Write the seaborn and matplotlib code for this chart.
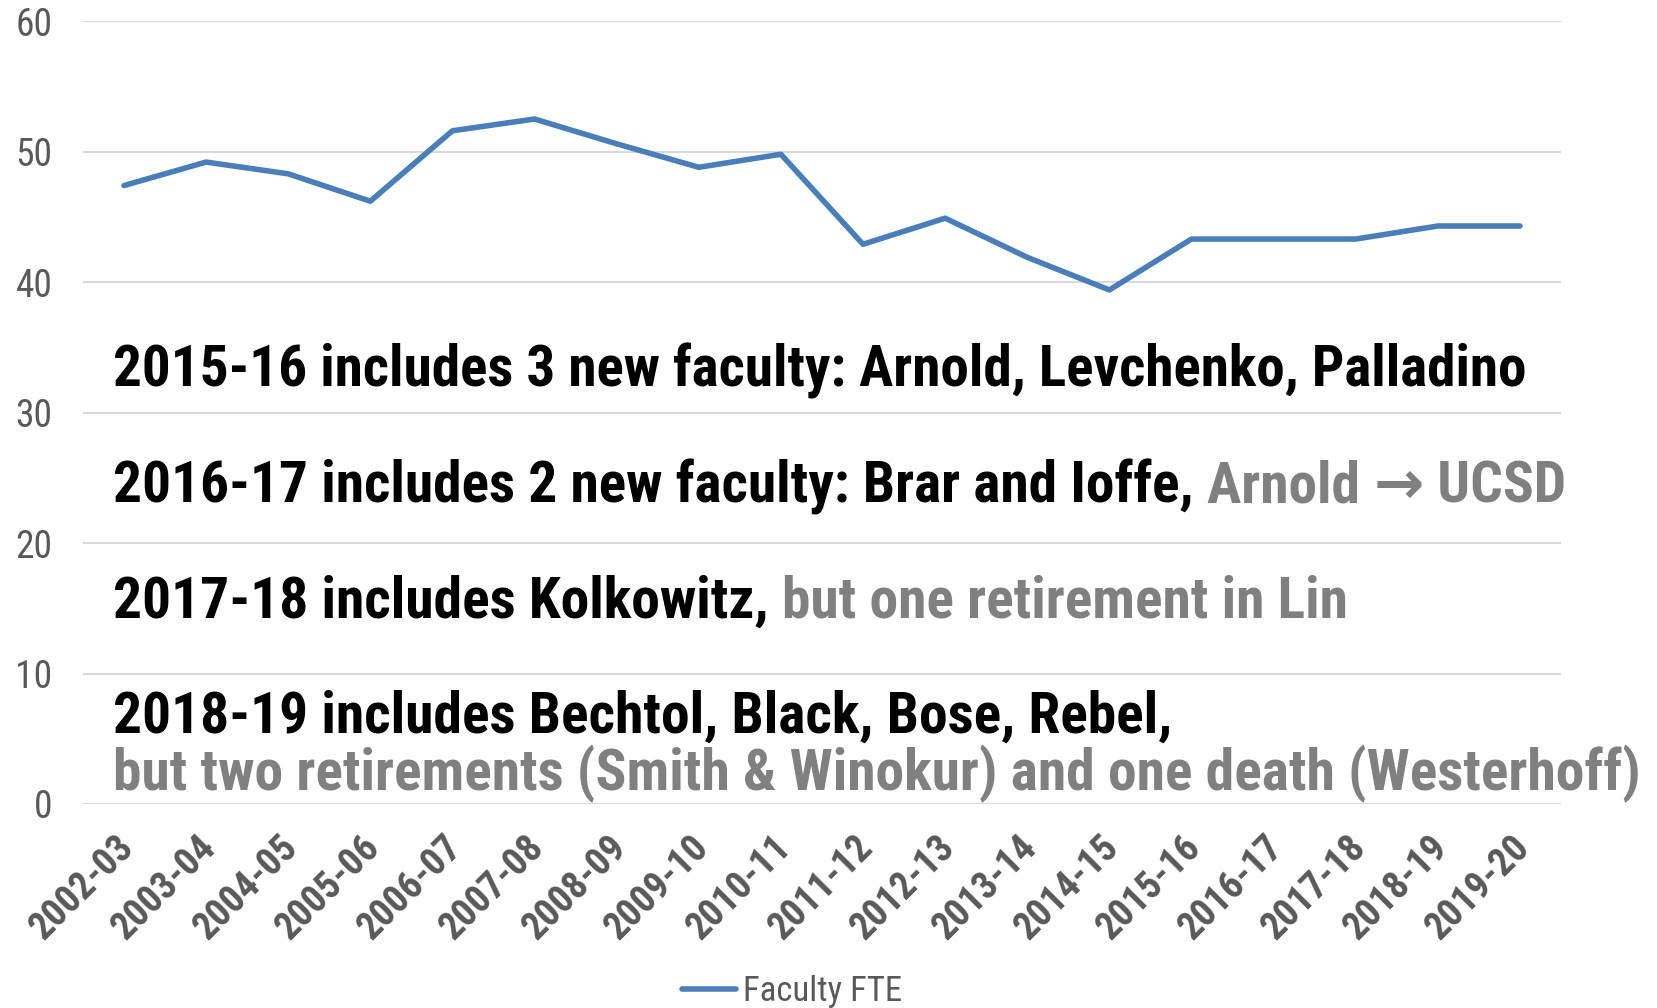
import matplotlib
matplotlib.use("Agg")
import matplotlib.pyplot as plt
from matplotlib import font_manager
from matplotlib.transforms import ScaledTranslation
import seaborn as sns
import pandas as pd

# === Data ===
years = ["2002-03", "2003-04", "2004-05", "2005-06", "2006-07", "2007-08",
         "2008-09", "2009-10", "2010-11", "2011-12", "2012-13", "2013-14",
         "2014-15", "2015-16", "2016-17", "2017-18", "2018-19", "2019-20"]
faculty_fte = [47.4, 49.2, 48.3, 46.2, 51.6, 52.5, 50.6, 48.8, 49.8,
               42.9, 44.9, 41.9, 39.4, 43.3, 43.3, 43.3, 44.3, 44.3]
y_ticks = [0, 10, 20, 30, 40, 50, 60]

# annotation lines: list of (text, colour key) pieces
notes = [
    [("2015-16 includes 3 new faculty: Arnold, Levchenko, Palladino", "k")],
    [("2016-17 includes 2 new faculty: Brar and Ioffe, ", "k"), ("Arnold ", "g"),
     ("\u2192", "a"), (" UCSD", "g")],
    [("2017-18 includes Kolkowitz, ", "k"), ("but one retirement in Lin", "g")],
    [("2018-19 includes Bechtol, Black, Bose, Rebel,", "k")],
    [("but two retirements (Smith & Winokur) and one death (Westerhoff)", "g")],
]
note_y = [32.0, 23.1, 14.3, 5.5, 1.05]
# widths of each note line in the reference, in figure pixels
note_w = [1417, 1460, 1237, 1061, 1531]

df = pd.DataFrame({"year": years, "fte": faculty_fte})

sns.set_style("white")
names = sorted({f.name for f in font_manager.fontManager.ttflist})
prefer = ["Liberation Sans Narrow", "Roboto Condensed", "Noto Sans Condensed",
          "Open Sans Condensed", "DejaVu Sans Condensed"]
narrow = [n for n in prefer if n in names]
if not narrow:
    narrow = [n for n in names if ("Condensed" in n or "Narrow" in n)
              and "Mono" not in n and "Serif" not in n][:1]
plt.rcParams["font.family"] = narrow + ["Liberation Sans", "DejaVu Sans"]

fig = plt.figure(figsize=(16.58, 10.08), dpi=100)
ax = fig.add_axes([0.050, 0.2024, 0.8915, 0.7766])

sns.lineplot(data=df, x="year", y="fte", ax=ax, color="#4a7ebb", linewidth=4.0,
             label="Faculty FTE", sort=False)

ax.set_xlim(-0.5, len(years) - 0.5)
ax.set_ylim(0, 60)
ax.set_yticks(y_ticks)
ax.grid(axis="y", color="#d9d9d9", linewidth=1.5)
ax.set_axisbelow(True)
for s in ax.spines.values():
    s.set_visible(False)
ax.tick_params(length=0)
ax.tick_params(axis="y", labelsize=27, labelcolor="#595959", pad=22)
ax.set_xlabel("")
ax.set_ylabel("")
ax.set_xticks(range(len(years)))
ax.set_xticklabels(years, rotation=45, ha="right", rotation_mode="anchor",
                   fontsize=27.5, fontweight="bold", color="#595959")
ax.tick_params(axis="x", pad=18)
shift = ScaledTranslation(-9 / 100, 0, fig.dpi_scale_trans)
for lab in ax.get_xticklabels():
    lab.set_transform(lab.get_transform() + shift)

leg = ax.legend(loc="lower center", bbox_to_anchor=(0.48, -0.301), frameon=False,
                fontsize=25, handlelength=1.55, handletextpad=0.2)
for t in leg.get_texts():
    t.set_color("#595959")

colours = {"k": "black", "g": "#808080", "a": "#808080"}
renderer = fig.canvas.get_renderer()
x0 = -0.13
for pieces, yv, target in zip(notes, note_y, note_w):
    # measure the line at a trial size, then scale it to the reference width
    probe = fig.text(0, 0, "".join(p[0] for p in pieces), fontsize=36, fontweight="bold")
    w = probe.get_window_extent(renderer=renderer).width
    probe.remove()
    size = min(44, 36 * target / w)
    xd = ax.transData.transform((x0, yv))[0]
    for text, c in pieces:
        xx = ax.transData.inverted().transform((xd, 0))[0]
        kw = {"family": ["DejaVu Sans"], "fontsize": size * 1.05} if c == "a" else {"fontsize": size}
        t = ax.text(xx, yv, text, fontweight="bold", color=colours[c],
                    va="baseline", ha="left", clip_on=False, **kw)
        xd = t.get_window_extent(renderer=renderer).x1

fig.savefig("out.png", dpi=100)
